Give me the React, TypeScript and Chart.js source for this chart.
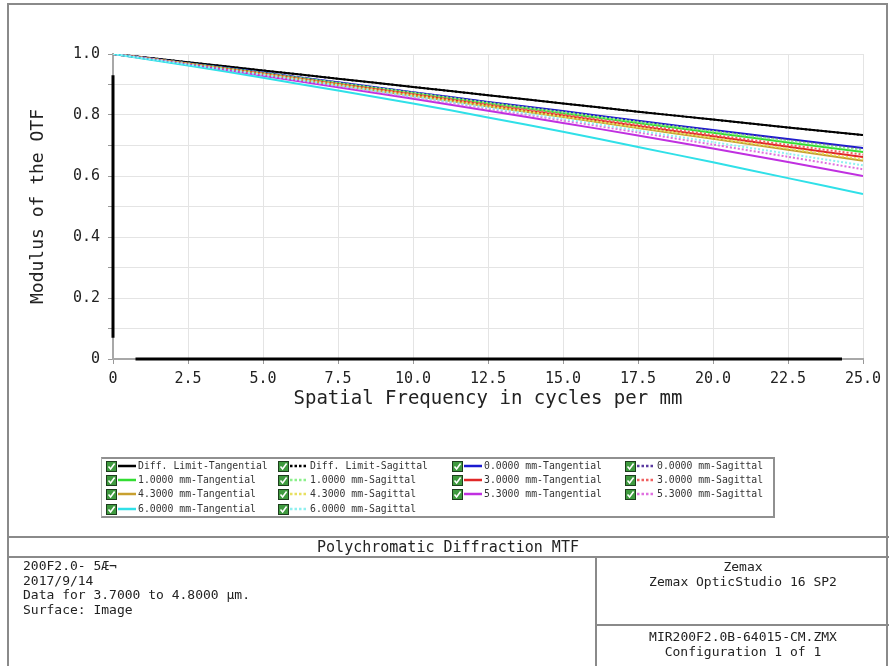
import React, { useEffect, useRef } from "react";
import { Chart, registerables } from "chart.js";
Chart.register(...registerables);

const freq = [0, 2.5, 5, 7.5, 10, 12.5, 15, 17.5, 20, 22.5, 25];
const diffTan = [1.0, 0.973, 0.946, 0.919, 0.892, 0.865, 0.838, 0.811, 0.785, 0.759, 0.734];
const diffSag = [1.0, 0.973, 0.946, 0.919, 0.892, 0.865, 0.838, 0.811, 0.785, 0.759, 0.734];
const f00Tan = [1.0, 0.970, 0.939, 0.907, 0.875, 0.843, 0.813, 0.781, 0.751, 0.721, 0.692];
const f00Sag = [1.0, 0.969, 0.938, 0.906, 0.874, 0.842, 0.811, 0.779, 0.748, 0.718, 0.688];
const f10Tan = [1.0, 0.969, 0.937, 0.904, 0.871, 0.838, 0.806, 0.774, 0.742, 0.710, 0.679];
const f10Sag = [1.0, 0.969, 0.938, 0.905, 0.873, 0.840, 0.809, 0.777, 0.746, 0.715, 0.685];
const f30Tan = [1.0, 0.968, 0.935, 0.901, 0.867, 0.832, 0.798, 0.764, 0.730, 0.696, 0.662];
const f30Sag = [1.0, 0.968, 0.936, 0.902, 0.869, 0.835, 0.802, 0.768, 0.735, 0.702, 0.670];
const f43Tan = [1.0, 0.967, 0.933, 0.898, 0.863, 0.828, 0.793, 0.757, 0.722, 0.686, 0.650];
const f43Sag = [1.0, 0.967, 0.934, 0.899, 0.865, 0.830, 0.795, 0.760, 0.725, 0.690, 0.655];
const f53Tan = [1.0, 0.965, 0.929, 0.891, 0.853, 0.814, 0.774, 0.733, 0.690, 0.646, 0.600];
const f53Sag = [1.0, 0.966, 0.931, 0.895, 0.858, 0.820, 0.782, 0.743, 0.703, 0.663, 0.622];
const f60Tan = [1.0, 0.962, 0.922, 0.880, 0.838, 0.792, 0.745, 0.695, 0.645, 0.593, 0.541];
const f60Sag = [1.0, 0.966, 0.932, 0.897, 0.861, 0.824, 0.787, 0.749, 0.711, 0.673, 0.635];

const seriesLabels = [
  "Diff. Limit-Tangential", "Diff. Limit-Sagittal", "0.0000 mm-Tangential", "0.0000 mm-Sagittal",
  "1.0000 mm-Tangential", "1.0000 mm-Sagittal", "3.0000 mm-Tangential", "3.0000 mm-Sagittal",
  "4.3000 mm-Tangential", "4.3000 mm-Sagittal", "5.3000 mm-Tangential", "5.3000 mm-Sagittal",
  "6.0000 mm-Tangential", "6.0000 mm-Sagittal",
];
const seriesValues = [diffTan, diffSag, f00Tan, f00Sag, f10Tan, f10Sag, f30Tan, f30Sag, f43Tan, f43Sag, f53Tan, f53Sag, f60Tan, f60Sag];
const seriesColors = [
  "#000000", "#000000", "#1a1ad0", "#5a3aa0",
  "#33dd33", "#8cf08c", "#e02828", "#f06060",
  "#c8a030", "#e8e060", "#c030e0", "#e070e0",
  "#30e0e8", "#90f0f0",
];
const seriesDashed = [false, true, false, true, false, true, false, true, false, true, false, true, false, true];

const xTicks = [0, 2.5, 5, 7.5, 10, 12.5, 15, 17.5, 20, 22.5, 25];

const MONO = "'DejaVu Sans Mono', 'Liberation Mono', monospace";

const axisBars = {
  id: "axisBars",
  afterDatasetsDraw(chart: any) {
    const { ctx, scales } = chart;
    const x = scales.x, y = scales.y;
    ctx.save();
    ctx.strokeStyle = "#000";
    ctx.lineWidth = 3;
    ctx.beginPath();
    ctx.moveTo(x.left, y.getPixelForValue(0.93));
    ctx.lineTo(x.left, y.getPixelForValue(0.07));
    ctx.moveTo(x.getPixelForValue(0.75), y.bottom);
    ctx.lineTo(x.getPixelForValue(24.3), y.bottom);
    ctx.stroke();
    ctx.restore();
  },
};

function CheckBox() {
  return (
    <svg width="11" height="11" viewBox="0 0 11 11" style={{ display: "block" }}>
      <rect x="0.5" y="0.5" width="10" height="10" fill="#3f9a3f" stroke="#1d3d1d" />
      <path d="M2.5 5.5 L4.6 8 L8.6 2.6" stroke="#ffffff" strokeWidth="1.6" fill="none" />
    </svg>
  );
}

const legendCols = [106, 278, 452, 625];
const legendRows = [466, 480, 494, 509];
const legendOrder = [
  [0, 1, 2, 3],
  [4, 5, 6, 7],
  [8, 9, 10, 11],
  [12, 13],
];

export default function App() {
  const ref = useRef<HTMLCanvasElement>(null);
  useEffect(() => {
    if (!ref.current) return;
    const datasets = seriesValues.map((vals, i) => ({
      label: seriesLabels[i],
      data: vals.map((v, j) => ({ x: freq[j], y: v })),
      borderColor: seriesColors[i],
      backgroundColor: seriesColors[i],
      borderWidth: 2,
      borderDash: seriesDashed[i] ? [2, 2] : [],
      pointRadius: 0,
      tension: 0.3,
      fill: false,
      order: seriesValues.length - i,
    }));
    const chart = new Chart(ref.current, {
      type: "line",
      data: { datasets },
      plugins: [axisBars],
      options: {
        animation: false,
        responsive: false,
        layout: { padding: { left: 24, right: 26, top: 54, bottom: 3 } },
        plugins: { legend: { display: false }, tooltip: { enabled: false } },
        scales: {
          x: {
            type: "linear",
            min: 0,
            max: 25,
            afterBuildTicks: (s: any) => { s.ticks = xTicks.map((v) => ({ value: v })); },
            afterFit: (s: any) => { s.height = 53; },
            ticks: {
              padding: 6,
              color: "#222",
              font: { family: MONO, size: 15 },
              callback: (v: any) => (Number(v) === 0 ? "0" : Number(v).toFixed(1)),
              maxRotation: 0,
            },
            grid: { color: "#e4e4e4", lineWidth: 1, tickLength: 5, tickColor: "#999" },
            border: { display: true, color: "#a8a8a8", width: 2 },
            title: {
              display: true,
              text: "Spatial Frequency in cycles per mm",
              color: "#222",
              font: { family: MONO, size: 19 },
              padding: { top: 0, bottom: 2 },
            },
          },
          y: {
            type: "linear",
            min: 0,
            max: 1,
            afterFit: (s: any) => { s.width = 89; },
            ticks: {
              stepSize: 0.1,
              padding: 8,
              color: "#222",
              font: { family: MONO, size: 15 },
              callback: (v: any) => {
                const k = Math.round(Number(v) * 10);
                if (k % 2 !== 0) return "";
                return k === 0 ? "0" : (k / 10).toFixed(1);
              },
            },
            grid: { color: "#e4e4e4", lineWidth: 1, tickLength: 5, tickColor: "#999" },
            border: { display: true, color: "#a8a8a8", width: 2 },
            title: {
              display: true,
              text: "Modulus of the OTF",
              color: "#222",
              font: { family: MONO, size: 18 },
              padding: { top: 4, bottom: 4 },
            },
          },
        },
      },
    } as any);
    return () => chart.destroy();
  }, []);

  const line = "#8a8a8a";
  return (
    <div style={{ position: "absolute", left: 0, top: 0, width: 889, height: 666, background: "#fff", overflow: "hidden", fontFamily: MONO }}>
      <canvas ref={ref} width={889} height={415} style={{ position: "absolute", left: 0, top: 0, width: 889, height: 415 }} />
      {/* outer frame */}
      <div style={{ position: "absolute", left: 7, top: 3, width: 881, height: 670, border: `2px solid ${line}`, boxSizing: "border-box", pointerEvents: "none" }} />
      {/* legend box */}
      <div style={{ position: "absolute", left: 101, top: 457, width: 674, height: 61, borderTop: "2px solid #909090", borderLeft: "1px solid #b0b0b0", borderRight: "2px solid #909090", borderBottom: "2px solid #909090", boxSizing: "border-box" }} />
      {legendOrder.map((row, r) =>
        row.map((idx, c) => (
          <div key={idx} style={{ position: "absolute", left: legendCols[c], top: legendRows[r] - 6, height: 12, display: "flex", alignItems: "center", whiteSpace: "nowrap" }}>
            <CheckBox />
            <svg width="20" height="6" style={{ display: "block", marginLeft: 0 }}>
              <line x1="1" y1="3" x2="19" y2="3" stroke={seriesColors[idx]} strokeWidth="2.5" strokeDasharray={seriesDashed[idx] ? "2.5 2" : undefined} />
            </svg>
            <span style={{ fontSize: 9.8, color: "#333", marginLeft: 1, lineHeight: "12px", display: "inline-block", transform: "scaleY(1.12)" }}>{seriesLabels[idx]}</span>
          </div>
        ))
      )}
      {/* title block lines */}
      <div style={{ position: "absolute", left: 7, top: 536, width: 882, height: 2, background: line }} />
      <div style={{ position: "absolute", left: 7, top: 556, width: 882, height: 2, background: line }} />
      <div style={{ position: "absolute", left: 595, top: 557, width: 2, height: 120, background: line }} />
      <div style={{ position: "absolute", left: 596, top: 624, width: 293, height: 2, background: line }} />
      <div style={{ position: "absolute", left: 7, top: 538, width: 882, height: 18, textAlign: "center", fontSize: 15, lineHeight: "18px", color: "#222" }}>Polychromatic Diffraction MTF</div>
      <div style={{ position: "absolute", left: 23, top: 559, fontSize: 13, lineHeight: "14.5px", color: "#222", whiteSpace: "pre" }}>
        {"200F2.0- 5Æ¬\n2017/9/14\nData for 3.7000 to 4.8000 µm.\nSurface: Image"}
      </div>
      <div style={{ position: "absolute", left: 597, top: 559, width: 292, textAlign: "center", fontSize: 13, lineHeight: "15px", color: "#222", whiteSpace: "pre" }}>
        {"Zemax\nZemax OpticStudio 16 SP2"}
      </div>
      <div style={{ position: "absolute", left: 597, top: 629, width: 292, textAlign: "center", fontSize: 13, lineHeight: "15px", color: "#222", whiteSpace: "pre" }}>
        {"MIR200F2.0B-64015-CM.ZMX\nConfiguration 1 of 1"}
      </div>
    </div>
  );
}
